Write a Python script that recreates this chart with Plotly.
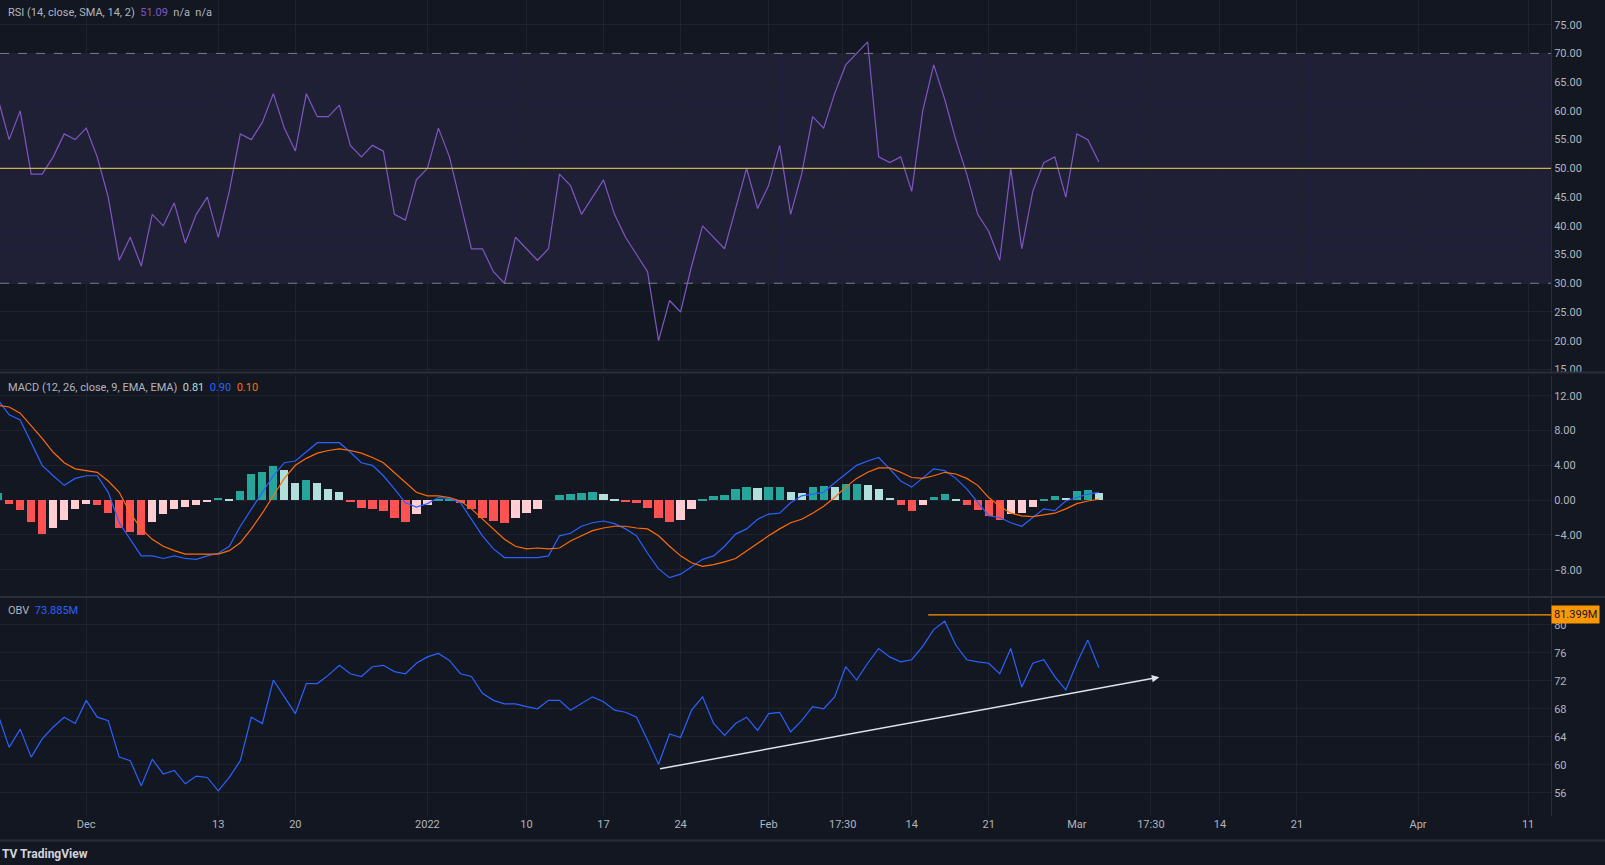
import numpy as np
import pandas as pd
import plotly.graph_objects as go
from plotly.subplots import make_subplots

# daily readings, 2021-11-23 .. 2022-03-03
rsi = [62, 55, 60, 49, 49, 52, 56, 55, 57, 52,
       45, 34, 38, 33, 42, 40, 44, 37, 42, 45,
       38, 46, 56, 55, 58, 63, 57, 53, 63, 59,
       59, 61, 54, 52, 54, 53, 42, 41, 48, 50,
       57, 52, 44, 36, 36, 32, 30, 38, 36, 34,
       36, 49, 47, 42, 45, 48, 42, 38, 35, 32,
       20, 27, 25, 33, 40, 38, 36, 43, 50, 43,
       47, 54, 42, 49, 59, 57, 63, 68, 70, 72,
       52, 51, 52, 46, 60, 68, 62, 55, 49, 42,
       39, 34, 50, 36, 46, 51, 52, 45, 56, 55, 51.09]

macd = [11.5, 9.8, 9.2, 6.6, 4.0, 2.8, 1.7, 2.5, 2.8, 2.8,
        0.9, -2.6, -4.5, -6.4, -6.4, -6.7, -6.4, -6.7, -6.8, -6.4,
        -6.1, -5.3, -3.0, -1.0, 0.9, 2.8, 4.3, 4.5, 5.5, 6.6,
        6.6, 6.6, 5.5, 4.3, 4.0, 2.8, 1.3, -0.3, -0.8, -0.4,
        0.3, 0.2, -0.3, -2.2, -4.1, -5.6, -6.6, -6.6, -6.6, -6.6,
        -6.4, -4.1, -3.8, -3.0, -2.6, -2.4, -2.7, -3.3, -4.1, -6.1,
        -7.9, -8.9, -8.5, -7.6, -6.8, -6.4, -5.3, -3.9, -3.3, -2.2,
        -1.6, -1.5, -0.3, 0.5, 0.7, 0.9, 2.0, 3.0, 4.0, 4.5,
        4.9, 3.6, 2.2, 1.5, 2.5, 3.6, 3.4, 2.5, 1.3, -0.3,
        -1.8, -2.0, -2.6, -3.0, -2.0, -1.0, -1.2, -0.1, 0.3, 0.7, 0.9]

signal = [10.9, 10.7, 10.0, 8.6, 7.1, 5.5, 4.3, 3.6, 3.4, 3.2,
          2.2, 0.9, -1.5, -3.3, -4.5, -5.3, -5.8, -6.2, -6.2, -6.2,
          -6.2, -5.8, -4.9, -3.3, -1.5, 0.5, 2.5, 4.0, 4.8, 5.4,
          5.7, 5.9, 5.7, 5.4, 4.9, 4.3, 3.2, 2.0, 0.9, 0.5,
          0.5, 0.3, -0.1, -1.0, -2.2, -3.3, -4.5, -5.3, -5.6, -5.5,
          -5.6, -5.5, -4.7, -4.1, -3.5, -3.2, -3.0, -3.0, -3.2, -3.3,
          -4.1, -5.3, -6.4, -7.2, -7.6, -7.4, -7.1, -6.7, -5.8, -5.0,
          -4.1, -3.3, -2.6, -2.2, -1.5, -0.7, 0.3, 1.5, 2.5, 3.2,
          3.7, 3.7, 3.2, 2.6, 2.5, 2.8, 3.2, 3.0, 2.5, 1.7,
          0.3, -0.7, -1.5, -1.8, -1.9, -1.7, -1.5, -1.0, -0.4, -0.1, 0.1]

hist = [0.9, -0.4, -1.1, -2.5, -3.8, -3.2, -2.3, -1.0, -0.4, -0.5,
        -1.4, -3.2, -3.6, -4.0, -2.5, -1.6, -1.0, -0.7, -0.5, -0.1,
        0.3, 0.1, 1.1, 3.0, 3.3, 4.0, 3.5, 2.0, 2.3, 2.0,
        1.3, 1.0, -0.2, -0.9, -1.0, -1.2, -2.0, -2.5, -1.5, -0.5,
        0.1, 0.2, -0.3, -1.0, -2.0, -2.4, -2.6, -2.0, -1.4, -1.0,
        0.0, 0.6, 0.8, 0.9, 1.0, 0.7, 0.2, -0.2, -0.3, -0.9,
        -2.0, -2.5, -2.2, -1.0, 0.2, 0.5, 0.6, 1.3, 1.6, 1.4,
        1.5, 1.6, 1.0, 0.9, 1.5, 1.7, 1.6, 1.9, 1.9, 1.8,
        1.3, 0.3, -0.5, -1.2, -0.5, 0.4, 0.8, 0.1, -0.5, -1.1,
        -1.8, -2.3, -1.6, -1.4, -0.8, 0.1, 0.5, 0.3, 1.1, 1.2, 0.81]

obv = [67.1, 62.5, 65.1, 61.1, 63.7, 65.4, 66.8, 65.9, 69.2, 66.8,
       66.3, 61.1, 60.6, 57.0, 60.8, 58.7, 59.2, 57.3, 58.4, 58.2,
       56.3, 58.2, 60.6, 66.8, 65.9, 72.1, 69.7, 67.3, 71.6, 71.6,
       72.8, 74.2, 73.0, 72.6, 74.0, 74.2, 73.3, 73.0, 74.5, 75.4,
       75.9, 74.9, 73.0, 72.6, 70.2, 69.2, 68.7, 68.7, 68.3, 68.0,
       69.2, 69.2, 67.8, 68.7, 69.7, 69.0, 67.8, 67.5, 66.8, 63.5,
       60.1, 64.4, 63.9, 67.8, 69.7, 65.9, 64.2, 65.9, 66.8, 64.9,
       67.3, 67.5, 64.7, 66.3, 68.3, 68.0, 69.7, 74.0, 72.1, 74.5,
       76.6, 75.4, 74.7, 75.0, 76.9, 79.3, 80.5, 77.1, 75.0, 74.7,
       74.5, 73.0, 76.6, 71.1, 74.5, 75.0, 72.6, 70.7, 74.5, 77.8, 73.885]

obv_high = 81.399
trend_start = ("2022-01-22", 59.4)
trend_end = ("2022-03-08 12:00", 72.5)
high_start = "2022-02-15 12:00"

tick_vals = ["2021-12-01", "2021-12-13", "2021-12-20", "2022-01-01", "2022-01-10",
             "2022-01-17", "2022-01-24", "2022-02-01", "2022-02-07 17:30", "2022-02-14",
             "2022-02-21", "2022-03-01", "2022-03-07 17:30", "2022-03-14", "2022-03-21",
             "2022-04-01", "2022-04-11"]
tick_text = ["Dec", "13", "20", "2022", "10", "17", "24", "Feb", "17:30", "14",
             "21", "Mar", "17:30", "14", "21", "Apr", "11"]
x_range = ["2021-11-23 04:00", "2022-04-13 02:00"]


def days(n):
    return pd.Timestamp("2021-11-23") + pd.to_timedelta(np.arange(n), "D")


BG = "#131722"
GRID = "#1f2330"
TXT = "#b2b5be"

# histogram colours like TradingView (rising / falling)
hcol = []
for i, v in enumerate(hist):
    prev = hist[i - 1] if i else v
    if v >= 0:
        hcol.append("#26a69a" if v >= prev else "#b2dfdb")
    else:
        hcol.append("#ffcdd2" if v >= prev else "#ff5252")

fig = make_subplots(rows=3, cols=1, shared_xaxes=True, vertical_spacing=0.002,
                    row_heights=[0.457, 0.268, 0.268])

fig.add_trace(go.Scatter(x=days(len(rsi)), y=rsi, mode="lines",
                         line=dict(color="#7e57c2", width=1.2)), row=1, col=1)

fig.add_trace(go.Bar(x=days(len(hist)), y=hist, marker=dict(color=hcol, line_width=0),
                     width=0.75 * 86400000), row=2, col=1)
fig.add_trace(go.Scatter(x=days(len(macd)), y=macd, mode="lines",
                         line=dict(color="#2962ff", width=1.2)), row=2, col=1)
fig.add_trace(go.Scatter(x=days(len(signal)), y=signal, mode="lines",
                         line=dict(color="#ff6d00", width=1.2)), row=2, col=1)

fig.add_trace(go.Scatter(x=days(len(obv)), y=obv, mode="lines",
                         line=dict(color="#2962ff", width=1.2)), row=3, col=1)

# RSI band and levels
fig.add_shape(type="rect", xref="x domain", yref="y", x0=0, x1=1, y0=30, y1=70,
              fillcolor="rgba(126,87,194,0.12)", line_width=0, layer="below")
for lv in (70, 30):
    fig.add_shape(type="line", xref="x domain", yref="y", x0=0, x1=1, y0=lv, y1=lv,
                  line=dict(color="#787b86", width=1, dash="dash"))
fig.add_shape(type="line", xref="x domain", yref="y", x0=0, x1=1, y0=50, y1=50,
              line=dict(color="#c8b44a", width=1.2))

fig.add_shape(type="line", x0=high_start, x1=x_range[1], y0=obv_high, y1=obv_high,
              line=dict(color="#ff9800", width=1.2), xref="x3", yref="y3")
fig.add_annotation(x=trend_end[0], y=trend_end[1], ax=trend_start[0], ay=trend_start[1],
                   xref="x3", yref="y3", axref="x3", ayref="y3", text="",
                   showarrow=True, arrowhead=2, arrowsize=1, arrowwidth=1.5,
                   arrowcolor="#e0e3eb")
fig.add_annotation(x=1, y=obv_high, xref="paper", yref="y3", text="81.399M",
                   showarrow=False, xanchor="left", bgcolor="#ff9800",
                   font=dict(color="#131722", size=11, family="Roboto"), borderpad=2)

legend_font = dict(size=11, family="Roboto", color=TXT)
fig.add_annotation(x=0.004, y=0.995, xref="paper", yref="paper", xanchor="left", yanchor="top",
                   showarrow=False, font=legend_font,
                   text="RSI (14, close, SMA, 14, 2)  <span style='color:#7e57c2'>51.09</span>  n/a  n/a")
fig.add_annotation(x=0.004, y=0.535, xref="paper", yref="paper", xanchor="left", yanchor="top",
                   showarrow=False, font=legend_font,
                   text="MACD (12, 26, close, 9, EMA, EMA)  <span style='color:#b2dfdb'>0.81</span>"
                        "  <span style='color:#2962ff'>0.90</span>  <span style='color:#ff6d00'>0.10</span>")
fig.add_annotation(x=0.004, y=0.262, xref="paper", yref="paper", xanchor="left", yanchor="top",
                   showarrow=False, font=legend_font,
                   text="OBV  <span style='color:#2962ff'>73.885M</span>")
fig.add_annotation(x=0.0, y=-0.035, xref="paper", yref="paper", xanchor="left", yanchor="top",
                   showarrow=False, font=dict(size=12, family="Roboto", color="#d1d4dc"),
                   text="<b>TV TradingView</b>")

for r in (1, 2, 3):
    fig.update_xaxes(row=r, col=1, type="date", range=x_range, tickvals=tick_vals,
                     ticktext=tick_text, showgrid=True, gridcolor=GRID, zeroline=False,
                     showticklabels=(r == 3), tickfont=dict(size=11, color=TXT, family="Roboto"),
                     showline=False, ticks="")
fig.update_yaxes(row=1, col=1, range=[14.2, 79.3], tickvals=list(range(15, 80, 5)),
                 tickformat=".2f")
fig.update_yaxes(row=2, col=1, range=[-10.9, 14.3], tickvals=[-8, -4, 0, 4, 8, 12],
                 tickformat=".2f")
fig.update_yaxes(row=3, col=1, range=[52.7, 84.0], tickvals=[56, 60, 64, 68, 72, 76, 80],
                 ticksuffix="M")
fig.update_yaxes(side="right", showgrid=True, gridcolor=GRID, zeroline=False,
                 tickfont=dict(size=11, color=TXT, family="Roboto"), ticks="",
                 showline=True, linecolor="#2a2e39")

fig.add_shape(type="line", xref="paper", yref="paper", x0=0, x1=1.04, y0=0.5435, y1=0.5435,
              line=dict(color="#2a2e39", width=2))
fig.add_shape(type="line", xref="paper", yref="paper", x0=0, x1=1.04, y0=0.2685, y1=0.2685,
              line=dict(color="#2a2e39", width=2))
fig.add_shape(type="line", xref="paper", yref="paper", x0=-0.01, x1=1.04, y0=-0.03, y1=-0.03,
              line=dict(color="#2a2e39", width=2))

fig.update_layout(width=1605, height=865, paper_bgcolor=BG, plot_bgcolor=BG,
                  showlegend=False, bargap=0,
                  margin=dict(l=0, r=54, t=0, b=49))
fig.write_html("out.html", config={"displayModeBar": False},
               post_script="document.body.style.margin='0';document.body.style.background='#131722';")
